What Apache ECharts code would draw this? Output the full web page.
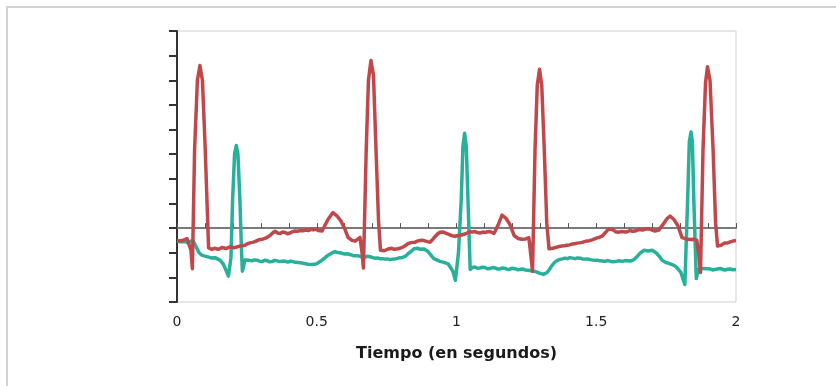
<!DOCTYPE html>
<html>
<head>
<meta charset="utf-8">
<script src="https://cdn.jsdelivr.net/npm/echarts@6/dist/echarts.min.js"></script>
<style>
  html, body { margin: 0; padding: 0; background: #ffffff; }
  #chart { width: 836px; height: 386px; }
</style>
</head>
<body>
<div id="chart"></div>
<script>
// Two ECG lead traces over two seconds: [time in s, amplitude in arbitrary units]
const redLead = [
  [0, -0.53], [0.009, -0.51], [0.018, -0.50], [0.027, -0.47], [0.036, -0.43], [0.043, -0.40], [0.050, -0.90],
  [0.055, -1.65], [0.063, 3.2], [0.073, 6.0], [0.082, 6.6], [0.091, 6.0], [0.101, 3.2], [0.113, -0.80],
  [0.125, -0.86], [0.133, -0.82], [0.140, -0.80], [0.147, -0.86], [0.154, -0.84], [0.161, -0.79], [0.168, -0.76],
  [0.175, -0.83], [0.182, -0.80], [0.190, -0.76], [0.197, -0.74], [0.204, -0.80], [0.211, -0.78], [0.225, -0.73],
  [0.234, -0.72], [0.243, -0.70], [0.252, -0.64], [0.261, -0.60], [0.270, -0.58], [0.279, -0.55], [0.288, -0.50],
  [0.297, -0.46], [0.306, -0.45], [0.315, -0.42], [0.324, -0.36], [0.333, -0.30], [0.342, -0.20], [0.351, -0.13],
  [0.360, -0.20], [0.369, -0.22], [0.378, -0.16], [0.387, -0.18], [0.395, -0.23], [0.404, -0.20], [0.413, -0.15],
  [0.422, -0.12], [0.431, -0.13], [0.440, -0.10], [0.451, -0.11], [0.462, -0.08], [0.470, -0.10], [0.479, -0.05],
  [0.488, -0.07], [0.497, -0.04], [0.505, -0.10], [0.512, -0.16], [0.519, -0.12], [0.526, -0.05], [0.540, 0.35],
  [0.558, 0.63], [0.572, 0.50], [0.587, 0.28], [0.601, -0.05], [0.612, -0.38], [0.626, -0.50], [0.637, -0.53],
  [0.647, -0.45], [0.655, -0.38], [0.662, -1.0], [0.667, -1.62], [0.677, 3.2], [0.685, 6.0], [0.694, 6.8],
  [0.703, 6.2], [0.712, 3.2], [0.721, 0.3], [0.728, -0.90], [0.741, -0.92], [0.748, -0.87], [0.755, -0.85],
  [0.762, -0.80], [0.769, -0.82], [0.777, -0.86], [0.784, -0.88], [0.791, -0.84], [0.798, -0.86], [0.807, -0.78],
  [0.816, -0.72], [0.825, -0.64], [0.834, -0.60], [0.843, -0.58], [0.852, -0.57], [0.860, -0.53], [0.869, -0.50],
  [0.878, -0.49], [0.887, -0.52], [0.896, -0.55], [0.905, -0.57], [0.914, -0.47], [0.923, -0.35], [0.932, -0.24],
  [0.941, -0.17], [0.950, -0.16], [0.959, -0.19], [0.968, -0.23], [0.977, -0.28], [0.985, -0.31], [0.994, -0.33],
  [1.003, -0.31], [1.012, -0.30], [1.021, -0.27], [1.030, -0.24], [1.039, -0.19], [1.048, -0.15], [1.057, -0.16],
  [1.066, -0.14], [1.075, -0.18], [1.084, -0.20], [1.093, -0.16], [1.102, -0.18], [1.111, -0.15], [1.120, -0.14],
  [1.127, -0.18], [1.134, -0.22], [1.148, 0.10], [1.163, 0.53], [1.177, 0.40], [1.191, 0.15], [1.206, -0.30],
  [1.220, -0.42], [1.234, -0.45], [1.248, -0.44], [1.259, -0.39], [1.266, -1.1], [1.272, -1.75], [1.281, 3.2],
  [1.289, 5.8], [1.297, 6.45], [1.305, 5.8], [1.314, 3.2], [1.323, 0.2], [1.331, -0.84], [1.338, -0.85],
  [1.345, -0.82], [1.354, -0.79], [1.363, -0.76], [1.370, -0.75], [1.377, -0.73], [1.386, -0.72], [1.395, -0.70],
  [1.404, -0.68], [1.413, -0.65], [1.422, -0.64], [1.431, -0.61], [1.440, -0.60], [1.449, -0.58], [1.458, -0.55],
  [1.467, -0.52], [1.476, -0.51], [1.485, -0.48], [1.494, -0.44], [1.503, -0.40], [1.512, -0.37], [1.521, -0.33],
  [1.528, -0.25], [1.535, -0.15], [1.542, -0.06], [1.549, 0.02], [1.556, -0.04], [1.563, -0.10], [1.570, -0.15],
  [1.578, -0.17], [1.585, -0.13], [1.592, -0.14], [1.599, -0.18], [1.606, -0.16], [1.613, -0.12], [1.621, -0.10],
  [1.630, -0.13], [1.639, -0.12], [1.647, -0.08], [1.656, -0.06], [1.665, -0.08], [1.674, -0.05], [1.683, -0.03],
  [1.692, -0.04], [1.701, -0.08], [1.710, -0.12], [1.717, -0.11], [1.724, -0.08], [1.739, 0.15], [1.753, 0.38],
  [1.764, 0.49], [1.778, 0.35], [1.792, 0.10], [1.807, -0.39], [1.814, -0.41], [1.821, -0.44], [1.828, -0.43],
  [1.835, -0.46], [1.842, -0.43], [1.849, -0.45], [1.860, -0.50], [1.867, -1.1], [1.873, -1.8], [1.882, 3.2],
  [1.891, 5.9], [1.898, 6.55], [1.907, 6.0], [1.918, 3.2], [1.927, 0.2], [1.934, -0.73], [1.940, -0.74],
  [1.946, -0.70], [1.953, -0.64], [1.960, -0.60], [1.968, -0.61], [1.975, -0.58], [1.982, -0.55], [1.989, -0.53],
  [1.995, -0.51], [2.0, -0.50]
];

const tealLead = [
  [0, -0.53], [0.009, -0.55], [0.018, -0.55], [0.027, -0.54], [0.036, -0.58], [0.047, -0.55], [0.057, -0.50],
  [0.068, -0.75], [0.079, -1.0], [0.089, -1.10], [0.100, -1.14], [0.107, -1.12], [0.114, -1.18], [0.122, -1.21],
  [0.129, -1.22], [0.136, -1.20], [0.143, -1.24], [0.154, -1.30], [0.165, -1.45], [0.175, -1.70], [0.184, -1.95],
  [0.193, -1.2], [0.199, 1.16], [0.206, 3.0], [0.212, 3.35], [0.218, 3.0], [0.225, 1.16], [0.231, -1.0],
  [0.234, -1.75], [0.243, -1.30], [0.250, -1.27], [0.259, -1.31], [0.268, -1.33], [0.277, -1.29], [0.286, -1.30],
  [0.295, -1.34], [0.304, -1.36], [0.313, -1.31], [0.322, -1.32], [0.331, -1.37], [0.340, -1.36], [0.349, -1.31],
  [0.358, -1.33], [0.368, -1.36], [0.379, -1.34], [0.388, -1.35], [0.397, -1.38], [0.406, -1.34], [0.415, -1.36],
  [0.424, -1.39], [0.433, -1.40], [0.442, -1.41], [0.451, -1.43], [0.460, -1.45], [0.469, -1.47], [0.476, -1.50],
  [0.483, -1.48], [0.492, -1.47], [0.501, -1.44], [0.508, -1.40], [0.515, -1.34], [0.522, -1.27], [0.530, -1.20],
  [0.538, -1.12], [0.547, -1.06], [0.556, -1.00], [0.565, -0.96], [0.574, -0.99], [0.583, -1.0], [0.592, -1.03],
  [0.601, -1.05], [0.610, -1.04], [0.619, -1.07], [0.628, -1.11], [0.637, -1.12], [0.646, -1.12], [0.655, -1.15],
  [0.664, -1.17], [0.673, -1.18], [0.682, -1.14], [0.691, -1.16], [0.700, -1.20], [0.708, -1.22], [0.717, -1.21],
  [0.726, -1.24], [0.735, -1.24], [0.744, -1.26], [0.753, -1.25], [0.762, -1.28], [0.771, -1.26], [0.780, -1.25],
  [0.789, -1.23], [0.798, -1.20], [0.807, -1.19], [0.816, -1.15], [0.825, -1.06], [0.834, -0.98], [0.841, -0.90],
  [0.848, -0.84], [0.855, -0.85], [0.862, -0.82], [0.870, -0.86], [0.877, -0.88], [0.884, -0.85], [0.891, -0.86],
  [0.898, -0.95], [0.905, -1.05], [0.912, -1.15], [0.919, -1.24], [0.927, -1.28], [0.934, -1.32], [0.941, -1.35],
  [0.948, -1.38], [0.955, -1.39], [0.962, -1.42], [0.970, -1.45], [0.977, -1.48], [0.987, -1.75], [0.996, -2.12],
  [1.007, -1.0], [1.017, 1.16], [1.023, 3.3], [1.029, 3.85], [1.035, 3.3], [1.041, 1.16], [1.049, -1.68],
  [1.057, -1.60], [1.066, -1.58], [1.075, -1.63], [1.084, -1.62], [1.093, -1.59], [1.102, -1.60], [1.111, -1.65],
  [1.120, -1.64], [1.129, -1.60], [1.138, -1.62], [1.147, -1.66], [1.156, -1.66], [1.165, -1.62], [1.174, -1.64],
  [1.183, -1.68], [1.191, -1.67], [1.200, -1.63], [1.209, -1.65], [1.218, -1.69], [1.227, -1.68], [1.236, -1.66],
  [1.245, -1.70], [1.254, -1.71], [1.263, -1.72], [1.272, -1.74], [1.281, -1.76], [1.290, -1.80], [1.299, -1.84],
  [1.311, -1.88], [1.317, -1.86], [1.324, -1.80], [1.331, -1.70], [1.338, -1.58], [1.345, -1.47], [1.352, -1.38],
  [1.361, -1.31], [1.370, -1.27], [1.379, -1.25], [1.388, -1.22], [1.397, -1.24], [1.406, -1.20], [1.415, -1.22],
  [1.424, -1.24], [1.433, -1.21], [1.442, -1.22], [1.451, -1.25], [1.460, -1.26], [1.469, -1.25], [1.478, -1.28],
  [1.487, -1.30], [1.496, -1.31], [1.504, -1.30], [1.513, -1.33], [1.522, -1.34], [1.531, -1.35], [1.540, -1.32],
  [1.549, -1.34], [1.558, -1.37], [1.567, -1.36], [1.576, -1.34], [1.585, -1.33], [1.594, -1.35], [1.603, -1.32],
  [1.612, -1.33], [1.621, -1.34], [1.628, -1.32], [1.635, -1.28], [1.642, -1.20], [1.649, -1.12], [1.657, -1.02],
  [1.664, -0.95], [1.671, -0.90], [1.678, -0.88], [1.685, -0.93], [1.692, -0.92], [1.700, -0.90], [1.707, -0.95],
  [1.714, -1.00], [1.721, -1.05], [1.728, -1.18], [1.735, -1.30], [1.742, -1.36], [1.749, -1.40], [1.757, -1.42],
  [1.764, -1.44], [1.771, -1.48], [1.778, -1.52], [1.785, -1.56], [1.792, -1.62], [1.803, -1.80], [1.810, -2.05],
  [1.817, -2.29], [1.827, 1.16], [1.833, 3.5], [1.839, 3.9], [1.844, 3.5], [1.849, 1.16], [1.855, -1.0],
  [1.858, -2.05], [1.864, -1.75], [1.870, -1.64], [1.875, -1.60], [1.882, -1.64], [1.889, -1.62], [1.898, -1.65],
  [1.907, -1.66], [1.916, -1.70], [1.925, -1.68], [1.934, -1.66], [1.943, -1.64], [1.951, -1.67], [1.960, -1.70],
  [1.970, -1.67], [1.979, -1.66], [1.989, -1.69], [2.0, -1.68]
];

const xTickLabels = ['0', '0.5', '1', '1.5', '2'];
const xAxisTitle = 'Tiempo (en segundos)';

const chart = echarts.init(document.getElementById('chart'), null, { renderer: 'canvas' });
const font = 'DejaVu Sans, Verdana, sans-serif';

chart.setOption({
  animation: false,
  backgroundColor: '#ffffff',
  graphic: [{
    type: 'rect',
    shape: { x: 7, y: 7, width: 900, height: 500 },
    style: { fill: 'none', stroke: '#d2d2d2', lineWidth: 2 },
    silent: true
  }],
  grid: {
    left: 177, right: 100, top: 31, bottom: 84,
    show: true, borderColor: '#cfcfcf', borderWidth: 1, backgroundColor: 'transparent'
  },
  xAxis: [{
    // baseline through zero with small upward ticks every 0.1 s
    type: 'value', position: 'bottom', min: 0, max: 2, interval: 0.1,
    axisLine: { show: true, onZero: true, lineStyle: { color: '#7a7a7a', width: 2 } },
    axisTick: { show: true, inside: true, length: 5, lineStyle: { color: '#555555', width: 1 } },
    axisLabel: { show: false },
    splitLine: { show: false }
  }, {
    // labelled time axis along the bottom of the plot
    type: 'value', position: 'bottom', min: 0, max: 2, interval: 0.5,
    axisLine: { show: false, onZero: false },
    axisTick: { show: false },
    splitLine: { show: false },
    axisLabel: {
      margin: 13, color: '#222222', fontSize: 14, fontFamily: font,
      formatter: (v) => xTickLabels[Math.round(v / 0.5)]
    },
    name: xAxisTitle, nameLocation: 'middle', nameGap: 44,
    nameTextStyle: { color: '#1a1a1a', fontSize: 16, fontWeight: 'bold', fontFamily: font }
  }],
  yAxis: {
    type: 'value', min: -3, max: 8, interval: 1,
    axisLine: { show: true, onZero: false, lineStyle: { color: '#333333', width: 2 } },
    axisTick: { show: true, inside: false, length: 8, lineStyle: { color: '#333333', width: 2 } },
    axisLabel: { show: false },
    splitLine: { show: false }
  },
  series: [{
    name: 'Derivación 2', type: 'line', xAxisIndex: 0,
    data: tealLead,
    showSymbol: false, smooth: false,
    lineStyle: { color: '#27b09a', width: 3.5, join: 'round' },
    z: 2
  }, {
    name: 'Derivación 1', type: 'line', xAxisIndex: 0,
    data: redLead,
    showSymbol: false, smooth: false,
    lineStyle: { color: '#c0484b', width: 3.5, join: 'round' },
    z: 3
  }]
});
</script>
</body>
</html>
